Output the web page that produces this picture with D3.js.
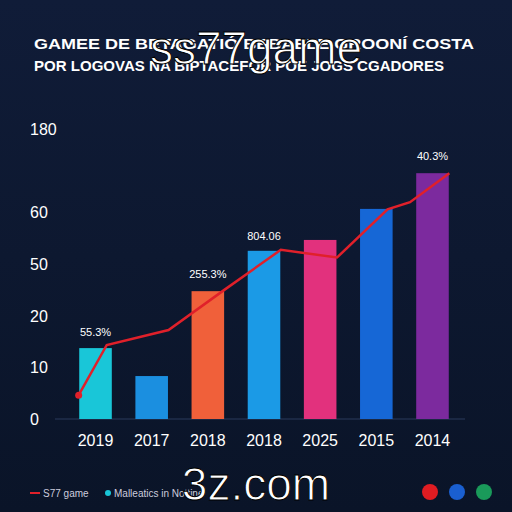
<!DOCTYPE html>
<html>
<head>
<script src="https://d3js.org/d3.v7.min.js"></script>
<style>
  body { margin: 0; background: #0d1830; }
  text { font-family: "Liberation Sans", Arial, sans-serif; }
</style>
</head>
<body>
<script>
// data (values in "tick steps", axis labels are uneven)
var categories = ["2019", "2017", "2018", "2018", "2025", "2015", "2014"];
var barValues = [1.37, 0.83, 2.47, 3.25, 3.46, 4.06, 4.75];
var barColors = ["#19c6d8", "#1b8fe0", "#f0603a", "#1b9ae6", "#e2317d", "#1667d6", "#7c2a9e"];
var tickLabels = ["0", "10", "20", "50", "60", "180"];
var tickPos = [0, 1, 2, 3, 4, 5.6];
var lineX = [-0.3, 0.2, 1.3, 2.3, 3.3, 4.3, 5.2, 5.6, 6.3];
var lineValues = [0.46, 1.43, 1.72, 2.5, 3.27, 3.12, 4.05, 4.19, 4.75];
var valueLabels = [{i: 0, t: "55.3%", v: 1.6}, {i: 2, t: "255.3%", v: 2.72}, {i: 3, t: "804.06", v: 3.45}, {i: 6, t: "40.3%", v: 5.0}];

var w = 512, h = 512;
var svg = d3.select("body").append("svg").attr("width", w).attr("height", h);

var defs = svg.append("defs");
var bg = defs.append("linearGradient").attr("id", "bg").attr("x1", 0).attr("y1", 0).attr("x2", 0).attr("y2", 1);
bg.append("stop").attr("offset", "0%").attr("stop-color", "#101c38");
bg.append("stop").attr("offset", "100%").attr("stop-color", "#0a1428");
svg.append("rect").attr("width", w).attr("height", h).attr("fill", "url(#bg)");

var x = d3.scaleBand().domain(d3.range(categories.length)).range([68, 460]).paddingInner(0.42).paddingOuter(0.2);
var xl = d3.scaleLinear().domain([0, categories.length - 1]).range([x(0) + x.bandwidth() / 2, x(6) + x.bandwidth() / 2]);
var y = d3.scaleLinear().domain([0, 5]).range([419, 160.25]);

// title
svg.append("text").attr("x", 34).attr("y", 49).attr("fill", "#fff").attr("font-size", 15).attr("font-weight", "bold")
  .attr("textLength", 440).attr("lengthAdjust", "spacingAndGlyphs")
  .text("GAMEE DE BETAGATIÓ BEBAELE GROONÍ COSTA");
svg.append("text").attr("x", 34).attr("y", 71).attr("fill", "#fff").attr("font-size", 15).attr("font-weight", "bold")
  .attr("textLength", 410).attr("lengthAdjust", "spacingAndGlyphs")
  .text("POR LOGOVAS NA BIPTACEFOR POE JOGS CGADORES");

// y axis labels
svg.selectAll(".yt").data(tickLabels).enter().append("text")
  .attr("x", 30).attr("y", function (d, i) { return y(tickPos[i]) + 6; })
  .attr("fill", "#fff").attr("font-size", 16).text(function (d) { return d; });

// baseline
svg.append("line").attr("x1", 55).attr("x2", 465).attr("y1", y(0)).attr("y2", y(0)).attr("stroke", "#2a3a5c");

// bars
svg.selectAll(".bar").data(barValues).enter().append("rect")
  .attr("x", function (d, i) { return x(i); })
  .attr("y", function (d) { return y(d); })
  .attr("width", x.bandwidth())
  .attr("height", function (d) { return y(0) - y(d); })
  .attr("fill", function (d, i) { return barColors[i]; });

// x labels
svg.selectAll(".xt").data(categories).enter().append("text")
  .attr("x", function (d, i) { return x(i) + x.bandwidth() / 2; }).attr("y", 446)
  .attr("text-anchor", "middle").attr("fill", "#fff").attr("font-size", 16).text(function (d) { return d; });

// line
var line = d3.line().x(function (d, i) { return xl(lineX[i]); }).y(function (d) { return y(d); });
svg.append("path").datum(lineValues).attr("d", line).attr("fill", "none").attr("stroke", "#e0202a").attr("stroke-width", 2.5);
svg.append("circle").attr("cx", xl(lineX[0])).attr("cy", y(lineValues[0])).attr("r", 3.5).attr("fill", "#e0202a");

// value labels
svg.selectAll(".vl").data(valueLabels).enter().append("text")
  .attr("x", function (d) { return x(d.i) + x.bandwidth() / 2; }).attr("y", function (d) { return y(d.v); })
  .attr("text-anchor", "middle").attr("fill", "#fff").attr("font-size", 11).text(function (d) { return d.t; });

// legend
svg.append("line").attr("x1", 30).attr("x2", 40).attr("y1", 493).attr("y2", 493).attr("stroke", "#e0202a").attr("stroke-width", 2);
svg.append("text").attr("x", 43).attr("y", 497).attr("fill", "#ccd").attr("font-size", 10).text("S77 game");
svg.append("circle").attr("cx", 108).attr("cy", 493).attr("r", 3).attr("fill", "#19c6d8");
svg.append("text").attr("x", 114).attr("y", 497).attr("fill", "#ccd").attr("font-size", 10).text("Malleatics in Nottine");
var dots = ["#e01c22", "#1a5fd0", "#1a9a5a"];
svg.selectAll(".ld").data(dots).enter().append("circle")
  .attr("cx", function (d, i) { return 430 + i * 27; }).attr("cy", 492).attr("r", 8).attr("fill", function (d) { return d; });

// watermarks
svg.append("text").attr("x", 256).attr("y", 64).attr("text-anchor", "middle").attr("fill", "#fff")
  .attr("font-size", 46).attr("stroke", "#000").attr("stroke-width", 1).text("ss77game");
svg.append("text").attr("x", 256).attr("y", 500).attr("text-anchor", "middle").attr("fill", "#fff")
  .attr("font-size", 46).attr("stroke", "#000").attr("stroke-width", 1).text("3z.com");
</script>
</body>
</html>
